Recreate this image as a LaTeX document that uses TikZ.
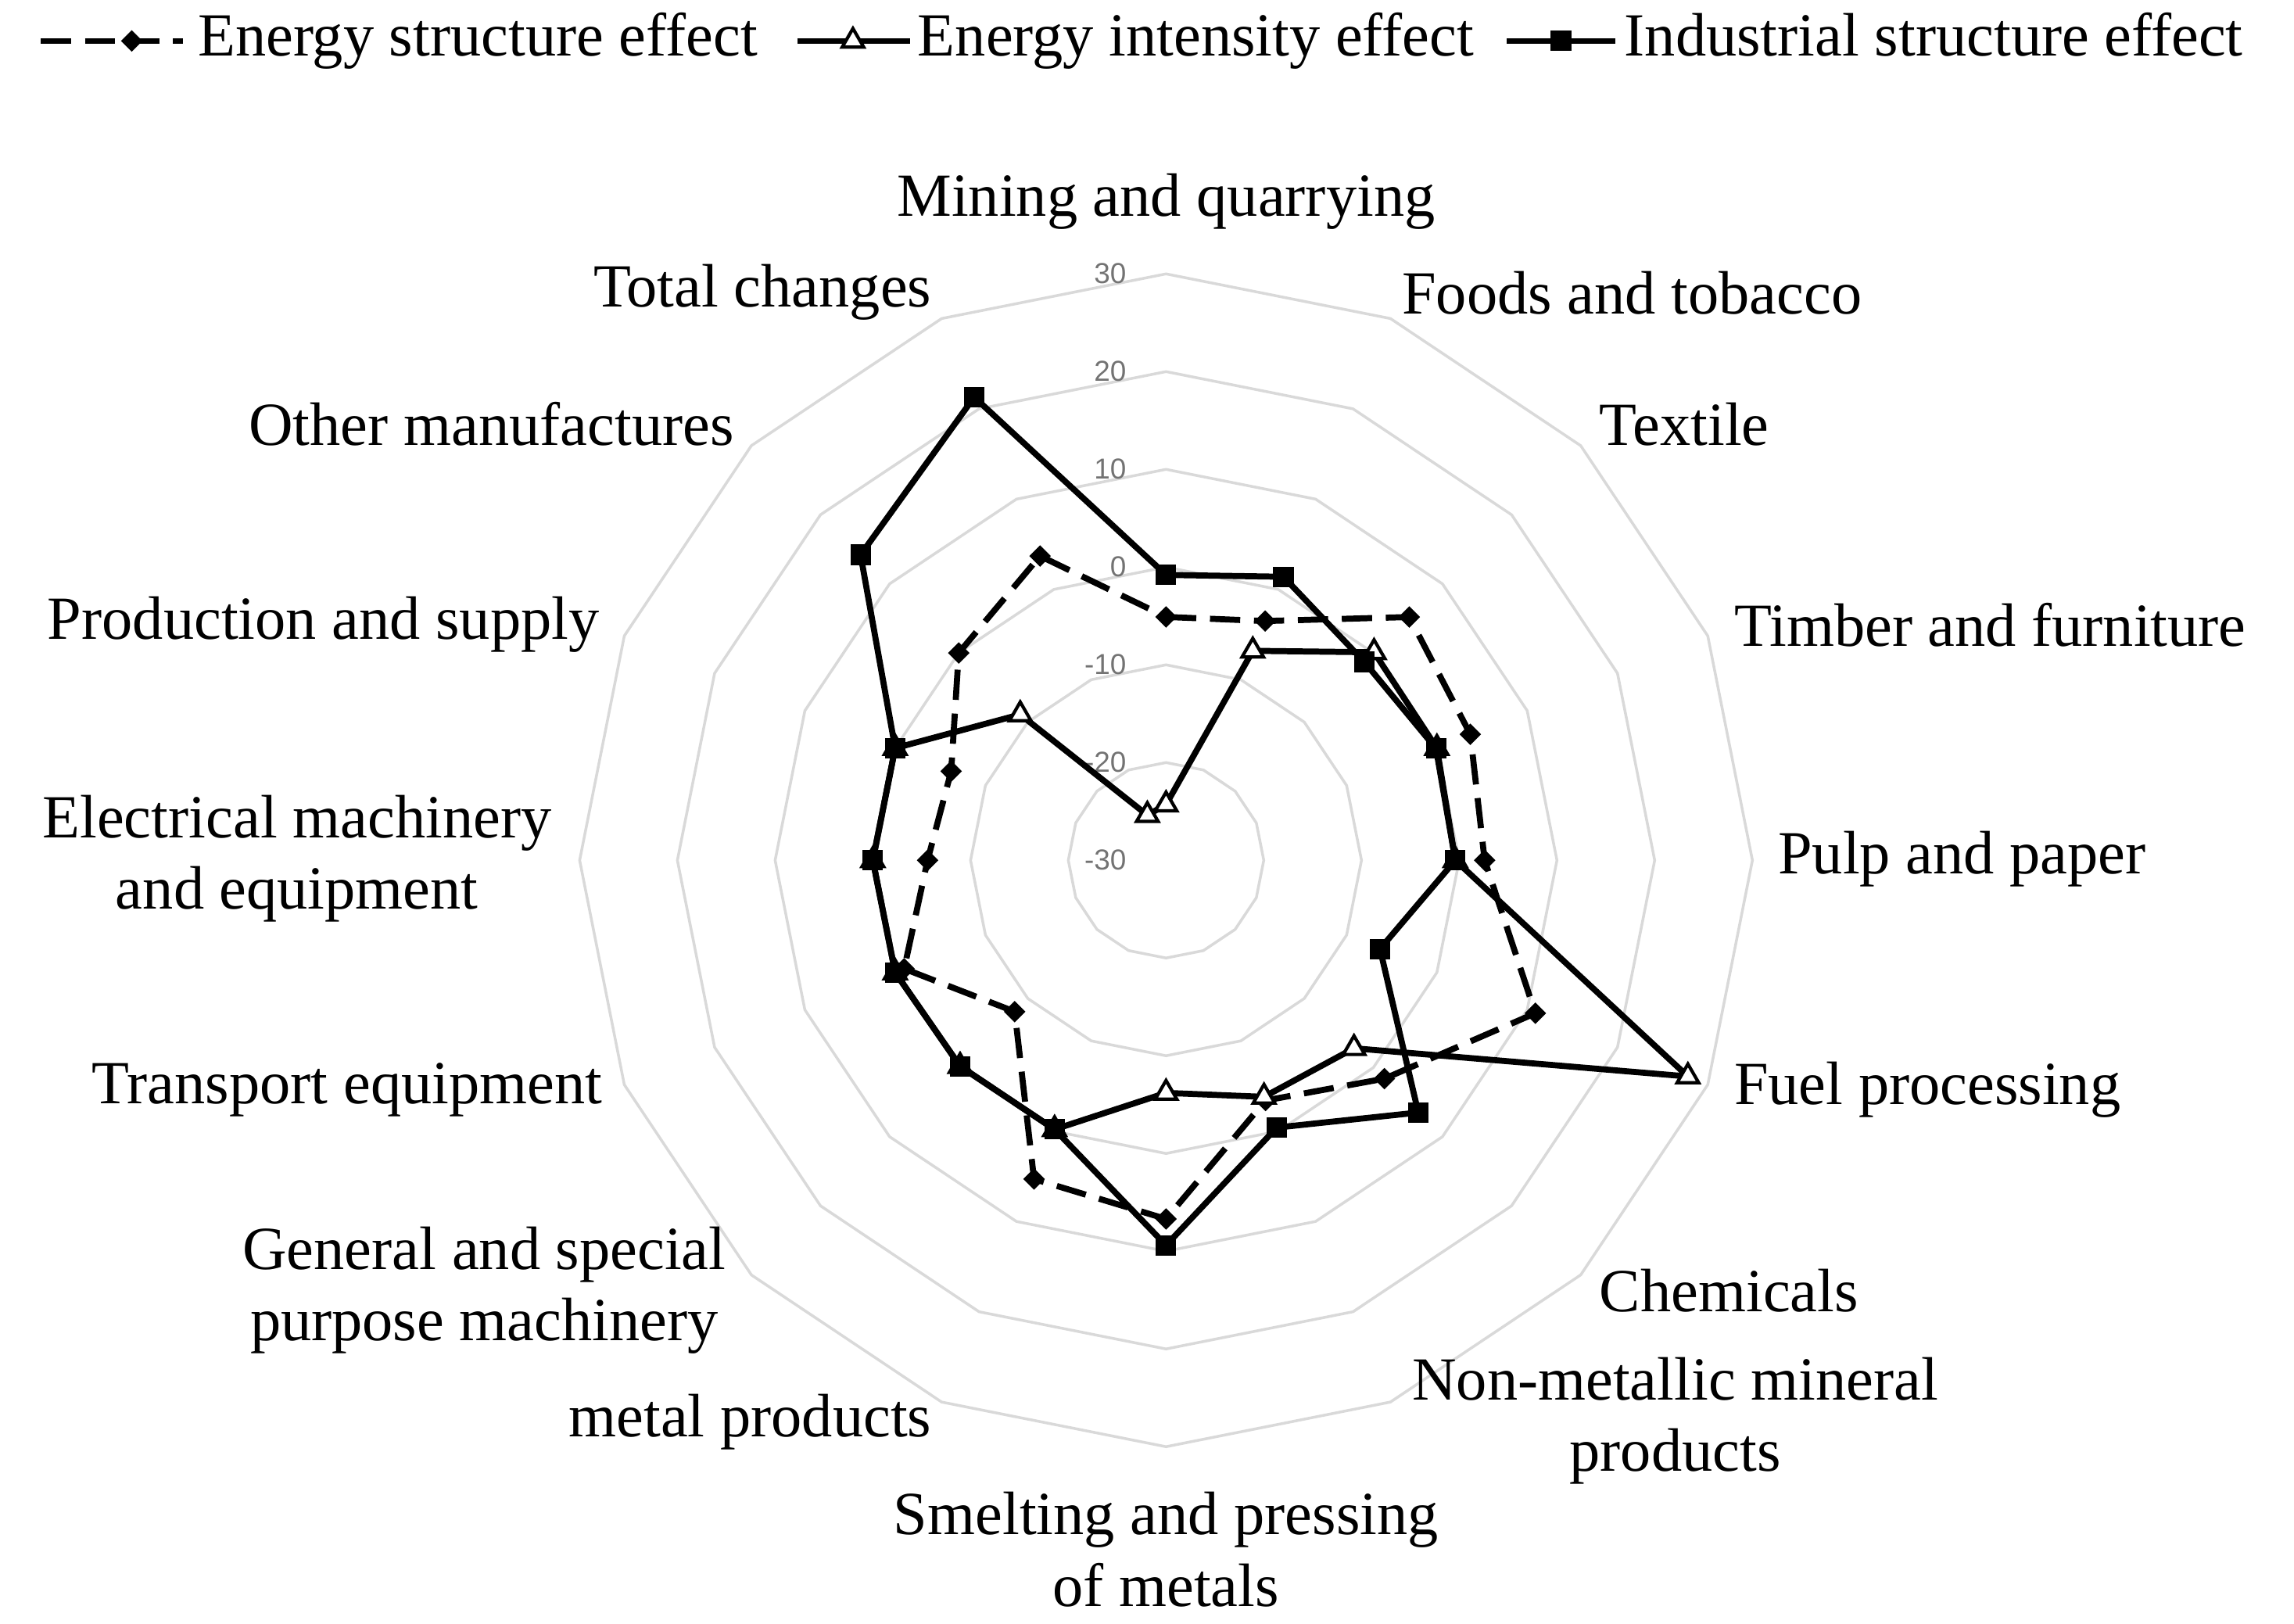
\documentclass[tikz,border=0pt]{standalone}
\usepackage{fontspec}
\setmainfont{Liberation Serif}
\setsansfont{Liberation Sans}
\usetikzlibrary{shapes.geometric}
\begin{document}
\begin{tikzpicture}[x=0.01871cm,y=-0.01871cm,
  ring/.style={draw=black!15,line width=1pt},
  ser/.style={draw=black,line width=2.2pt,line join=round},
  dsh/.style={dash pattern=on 11pt off 5pt},
  lab/.style={font=\fontsize{22.3}{26}\selectfont,inner sep=0pt},
  tick/.style={font=\sffamily\fontsize{10.5}{12}\selectfont,text=black!55,anchor=east,inner sep=1pt},
  sqm/.style={rectangle,fill=black,minimum size=14*0.01871cm,inner sep=0pt},
  dim/.style={diamond,fill=black,minimum width=15*0.01871cm,minimum height=15*0.01871cm,inner sep=0pt,shape aspect=1},
  trm/.style={regular polygon,regular polygon sides=3,draw=black,fill=white,line width=1.2pt,minimum size=17*0.01871cm,inner sep=0pt}]
\useasboundingbox (0,0) rectangle (1568,1109.6);
% rings
\foreach \k in {1,...,6}{
  \draw[ring] (797,{588-\k*66.8}) \foreach \j in {1,...,15}{ -- ({797+sin(22.5*\j)*\k*66.8},{588-cos(22.5*\j)*\k*66.8}) } -- cycle;
}
\foreach \t [count=\k from 0] in {-30,-20,-10,0,10,20,30}
  \node[tick] (t\k) at (772,{588-\k*66.8}) {\t};
% data coordinates
\foreach \v [count=\i from 0] in {-5.1,-3.5,5.2,3.7,2.6,10.9,1.6,-3.4,6.7,5.3,-8.1,-1,-5.6,-6.2,0,3.7}
  \coordinate (e\i) at ({797+sin(22.5*\i)*(\v+30)*6.68},{588-cos(22.5*\i)*(\v+30)*6.68});
\foreach \v [count=\i from 0] in {-24.3,-6.8,0.1,0,-0.4,27.8,-2.8,-3.8,-6.2,-0.2,-0.2,0,0,0,-8.9,-25}
  \coordinate (n\i) at ({797+sin(22.5*\i)*(\v+30)*6.68},{588-cos(22.5*\i)*(\v+30)*6.68});
\foreach \v [count=\i from 0] in {-0.8,1.4,-1.3,-0.1,-0.4,-6.3,6.5,-0.4,9.4,-0.2,-0.2,0,0,0,14.2,21.3}
  \coordinate (s\i) at ({797+sin(22.5*\i)*(\v+30)*6.68},{588-cos(22.5*\i)*(\v+30)*6.68});
% series
\draw[ser,dsh] (e0) \foreach \i in {1,...,15}{ -- (e\i) } -- cycle;
\foreach \i in {0,...,15} \node[dim] (me\i) at (e\i) {};
\draw[ser] (n0) \foreach \i in {1,...,15}{ -- (n\i) } -- cycle;
\foreach \i in {0,...,15} \node[trm] (mn\i) at (n\i) {};
\draw[ser] (s0) \foreach \i in {1,...,15}{ -- (s\i) } -- cycle;
\foreach \i in {0,...,15} \node[sqm] (ms\i) at (s\i) {};
% category labels
\node[lab] (c0) at (797,138) {Mining and quarrying};
\node[lab,anchor=west] (c1) at (958,200) {Foods and tobacco};
\node[lab,anchor=west] (c2) at (1093,290) {Textile};
\node[lab,anchor=west] (c3) at (1185,427) {Timber and furniture};
\node[lab,anchor=west] (c4) at (1215,587) {Pulp and paper};
\node[lab,anchor=west] (c5) at (1185,745) {Fuel processing};
\node[lab,anchor=west] (c6) at (1093,882) {Chemicals};
\node[lab,align=center] (c7) at (1145,971) {Non-metallic mineral\\products};
\node[lab,align=center] (c8) at (797,1059) {Smelting and pressing\\of metals};
\node[lab,anchor=east] (c9) at (637,972) {metal products};
\node[lab,align=center] (c10) at (331,882) {General and special\\purpose machinery};
\node[lab,anchor=east] (c11) at (412,745) {Transport equipment};
\node[lab,align=center] (c12) at (203,587) {Electrical machinery\\and equipment};
\node[lab,anchor=east] (c13) at (410,427) {Production and supply};
\node[lab,anchor=east] (c14) at (502,290) {Other manufactures};
\node[lab,anchor=east] (c15) at (637,200) {Total changes};
% legend
\coordinate (la1) at (28,28); \coordinate (la2) at (125,28);
\draw[ser,dsh] (la1) -- (la2);
\node[dim] (lm1) at (90,28) {};
\node[lab,anchor=base west] (lt1) at (135,38) {Energy structure effect};
\coordinate (lb1) at (545,28); \coordinate (lb2) at (622,28);
\draw[ser] (lb1) -- (lb2);
\node[trm] (lm2) at (583,28) {};
\node[lab,anchor=base west] (lt2) at (627,38) {Energy intensity effect};
\coordinate (lc1) at (1030,28); \coordinate (lc2) at (1104,28);
\draw[ser] (lc1) -- (lc2);
\node[sqm] (lm3) at (1067,28) {};
\node[lab,anchor=base west] (lt3) at (1110,38) {Industrial structure effect};
\end{tikzpicture}
\end{document}
